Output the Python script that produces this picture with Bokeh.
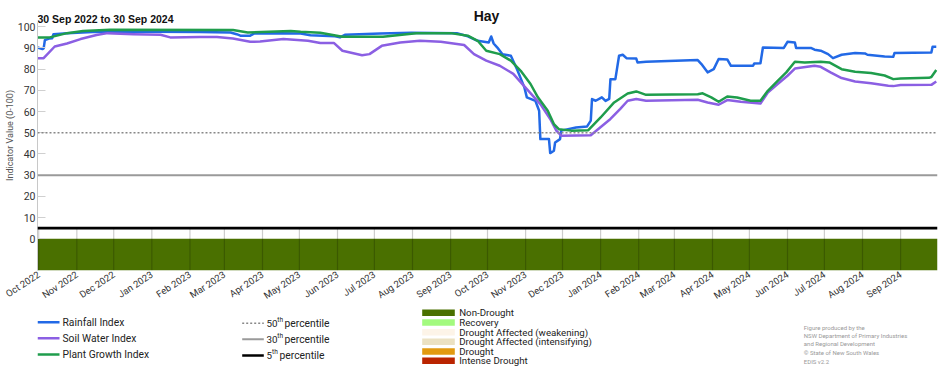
import math
import pandas as pd
from bokeh.plotting import figure
from bokeh.models import Range1d, FixedTicker, DatetimeTickFormatter, Span, Label, Title
from bokeh.layouts import column
from bokeh.embed import file_html
from bokeh.resources import INLINE
from bokeh.core.properties import value

# ---------------- data ----------------
title_text = "Hay"
subtitle_text = "30 Sep 2022 to 30 Sep 2024"
y_label = "Indicator Value (0-100)"

rain_dates = ["2022-09-30", "2022-10-04", "2022-10-05", "2022-10-06", "2022-10-10", "2022-10-12", "2022-10-13",
              "2022-10-24", "2022-11-14", "2022-12-31", "2023-02-09", "2023-03-06", "2023-03-11", "2023-03-14",
              "2023-03-22", "2023-03-25", "2023-04-16", "2023-05-02", "2023-05-10", "2023-05-30", "2023-06-03",
              "2023-06-07", "2023-07-06", "2023-07-31", "2023-09-06", "2023-09-15", "2023-09-23", "2023-10-02",
              "2023-10-04", "2023-10-06", "2023-10-09", "2023-10-13", "2023-10-20", "2023-10-25", "2023-10-31",
              "2023-11-02", "2023-11-09", "2023-11-12", "2023-11-13", "2023-11-20", "2023-11-21", "2023-11-24",
              "2023-11-25", "2023-11-29", "2023-11-30", "2023-12-12", "2023-12-21", "2023-12-24", "2023-12-25",
              "2023-12-28", "2024-01-02", "2024-01-05", "2024-01-08", "2024-01-09", "2024-01-13", "2024-01-16",
              "2024-01-19", "2024-01-22", "2024-01-30", "2024-01-31", "2024-02-07", "2024-03-20", "2024-03-23",
              "2024-03-28", "2024-04-02", "2024-04-06", "2024-04-13", "2024-04-16", "2024-05-04", "2024-05-05",
              "2024-05-10", "2024-05-12", "2024-05-29", "2024-06-01", "2024-06-07", "2024-06-08", "2024-06-20",
              "2024-06-23", "2024-06-28", "2024-07-04", "2024-07-08", "2024-07-15", "2024-07-26", "2024-08-03",
              "2024-08-05", "2024-08-19", "2024-08-26", "2024-08-27", "2024-09-26", "2024-09-27", "2024-09-30"]
rain_vals = [90.2, 89.5, 89.8, 93.7, 94.5, 94.6, 96.5,
             96.9, 97.5, 97.6, 97.5, 97.3, 96.5, 95.8,
             95.8, 96.8, 97.0, 96.8, 96.0, 95.5, 95.0,
             96.2, 96.8, 97.2, 97.0, 95.5, 93.4, 92.6,
             95.4, 92.1, 90.2, 87.1, 86.3, 80.0, 71.4,
             66.7, 65.0, 60.4, 47.0, 47.0, 40.4, 41.5,
             45.4, 47.0, 51.0, 52.5, 53.0, 55.7, 65.9,
             65.1, 66.7, 65.0, 66.0, 75.3, 75.3, 86.3,
             86.8, 85.2, 85.0, 83.2, 83.5, 84.3, 82.4,
             78.5, 80.0, 84.8, 84.6, 81.6, 81.6, 82.7,
             82.8, 90.2, 90.0, 92.9, 92.6, 90.0, 90.0,
             89.2, 88.7, 87.1, 85.2, 86.8, 87.6, 87.4,
             86.8, 86.0, 85.8, 87.6, 87.9, 90.6, 90.6]

soil_dates = ["2022-09-30", "2022-10-05", "2022-10-14", "2022-10-24", "2022-11-04", "2022-11-17", "2022-11-26",
              "2022-12-17", "2023-01-08", "2023-01-16", "2023-02-09", "2023-02-23", "2023-03-08", "2023-03-22",
              "2023-03-30", "2023-04-18", "2023-05-08", "2023-05-18", "2023-05-29", "2023-06-05", "2023-06-21",
              "2023-06-27", "2023-07-07", "2023-07-22", "2023-08-07", "2023-08-24", "2023-09-12", "2023-09-20",
              "2023-09-30", "2023-10-11", "2023-10-22", "2023-11-02", "2023-11-13", "2023-11-21", "2023-11-26",
              "2023-11-30", "2023-12-24", "2024-01-09", "2024-01-17", "2024-01-23", "2024-01-30", "2024-02-07",
              "2024-03-20", "2024-03-28", "2024-04-06", "2024-04-13", "2024-04-24", "2024-05-10", "2024-05-16",
              "2024-05-24", "2024-06-01", "2024-06-07", "2024-06-17", "2024-06-23", "2024-06-28", "2024-07-06",
              "2024-07-15", "2024-07-26", "2024-08-08", "2024-08-22", "2024-08-26", "2024-09-01", "2024-09-26",
              "2024-09-30"]
soil_vals = [85.2, 85.2, 90.7, 92.1, 94.2, 96.1, 97.0,
             96.5, 96.2, 95.0, 95.2, 95.2, 94.5, 92.9,
             93.0, 94.2, 93.4, 92.3, 92.4, 88.7, 86.6,
             87.1, 91.0, 92.6, 93.4, 92.9, 91.4, 87.1,
             84.0, 81.6, 77.8, 70.6, 63.5, 56.5, 51.0,
             48.6, 48.8, 56.5, 61.3, 65.1, 65.9, 65.1,
             65.6, 64.3, 63.2, 65.4, 64.6, 63.8, 69.0,
             73.0, 76.9, 80.3, 81.1, 81.6, 81.1, 78.5,
             75.8, 74.2, 73.4, 72.2, 72.0, 72.5, 72.6,
             74.2]

plant_dates = ["2022-09-30", "2022-10-10", "2022-10-24", "2022-11-06", "2022-11-28", "2023-03-08", "2023-03-20",
               "2023-04-24", "2023-05-02", "2023-05-18", "2023-06-05", "2023-07-08", "2023-08-04", "2023-09-01",
               "2023-09-15", "2023-09-23", "2023-09-30", "2023-10-11", "2023-10-20", "2023-10-28", "2023-11-05",
               "2023-11-11", "2023-11-19", "2023-11-24", "2023-11-28", "2023-12-08", "2023-12-22", "2024-01-01",
               "2024-01-12", "2024-01-23", "2024-01-30", "2024-02-07", "2024-03-20", "2024-03-24", "2024-03-31",
               "2024-04-06", "2024-04-13", "2024-04-21", "2024-05-02", "2024-05-10", "2024-05-16", "2024-05-24",
               "2024-05-31", "2024-06-07", "2024-06-15", "2024-06-28", "2024-07-05", "2024-07-15", "2024-07-26",
               "2024-08-08", "2024-08-19", "2024-08-26", "2024-09-01", "2024-09-24", "2024-09-26", "2024-09-30"]
plant_vals = [95.0, 95.0, 97.0, 98.0, 98.6, 98.5, 97.3,
              98.0, 97.6, 97.2, 95.3, 95.3, 97.0, 97.0,
              95.8, 93.4, 88.7, 87.1, 84.0, 79.2, 73.0,
              66.7, 60.4, 54.1, 51.7, 51.0, 51.2, 57.2,
              64.3, 68.5, 69.5, 67.9, 68.2, 68.6, 66.7,
              64.6, 67.1, 66.6, 65.1, 65.1, 69.8, 74.5,
              78.5, 83.5, 83.2, 83.5, 83.2, 80.0, 78.8,
              78.2, 77.0, 75.3, 75.6, 75.9, 76.3, 79.6]

percentile_levels = [50, 30, 5]
y_ticks = [0, 10, 20, 30, 40, 50, 60, 70, 80, 90, 100]
month_ticks = ["2022-10-01", "2022-11-01", "2022-12-01", "2023-01-01", "2023-02-01", "2023-03-01",
               "2023-04-01", "2023-05-01", "2023-06-01", "2023-07-01", "2023-08-01", "2023-09-01",
               "2023-10-01", "2023-11-01", "2023-12-01", "2024-01-01", "2024-02-01", "2024-03-01",
               "2024-04-01", "2024-05-01", "2024-06-01", "2024-07-01", "2024-08-01", "2024-09-01"]

drought_period_start = ["2022-09-30"]
drought_period_end = ["2024-10-01"]
drought_period_cat = ["Non-Drought"]

drought_categories = ["Non-Drought", "Recovery", "Drought Affected (weakening)",
                      "Drought Affected (intensifying)", "Drought", "Intense Drought"]
drought_colors = ["#4a7000", "#a3fa7e", "#fdf4e8", "#ebe1c2", "#e29a10", "#ba2400"]

series_names = ["Rainfall Index", "Soil Water Index", "Plant Growth Index"]
series_colors = ["#2269e6", "#8b5fe3", "#1f9d4c"]

credits = ["Figure produced by the", "NSW Department of Primary Industries",
           "and Regional Development", "\u00a9 State of New South Wales", "EDIS v2.2"]


def ms(s):
    return pd.Timestamp(s).value / 1e6


FONT = "Roboto"
Y_MIN, Y_MAX_AXIS, Y_TOP = -15, 102, 112.4
LEFT, RIGHT, WIDTH = 37, 15, 952

# ---------------- main chart ----------------
p = figure(width=WIDTH, height=308, x_axis_type="datetime", title=None,
           x_range=Range1d(ms("2022-09-30"), ms("2024-10-01")), y_range=Range1d(Y_MIN, Y_TOP),
           output_backend="svg", toolbar_location=None,
           min_border_left=LEFT, min_border_right=RIGHT, min_border_top=0, min_border_bottom=38)
p.outline_line_color = None
p.xgrid.grid_line_color = None
p.ygrid.grid_line_color = None
p.background_fill_color = "white"
p.border_fill_color = "white"

cat_color = dict(zip(drought_categories, drought_colors))
p.quad(left=[ms(d) for d in drought_period_start], right=[ms(d) for d in drought_period_end],
       bottom=[Y_MIN] * len(drought_period_cat), top=[0] * len(drought_period_cat),
       fill_color=[cat_color[c] for c in drought_period_cat], line_color=None)

tick_ms = [ms(d) for d in month_ticks]
p.segment(x0=tick_ms, y0=[Y_MIN] * len(tick_ms), x1=tick_ms, y1=[5] * len(tick_ms),
          line_color="black", line_alpha=0.2, line_width=1.2)

span_styles = [("#888888", "2 2", 1.6), ("#9a9a9a", "solid", 2.0), ("#000000", "solid", 2.6)]
for lvl, (c, dash, w) in zip(percentile_levels, span_styles):
    p.add_layout(Span(location=lvl, dimension="width", line_color=c, line_dash=dash, line_width=w))

for dates, vals, c in [(rain_dates, rain_vals, series_colors[0]),
                       (soil_dates, soil_vals, series_colors[1]),
                       (plant_dates, plant_vals, series_colors[2])]:
    p.line(x=[ms(d) for d in dates], y=vals, line_color=c, line_width=2.5, line_join="round")

# axes
p.xaxis.ticker = FixedTicker(ticks=tick_ms)
p.xaxis.formatter = DatetimeTickFormatter(days="%b %Y", months="%b %Y", years="%b %Y")
p.xaxis.major_label_orientation = 0.58
p.xaxis.axis_line_color = None
p.xaxis.major_tick_line_color = None
p.xaxis.major_tick_in = 0
p.xaxis.major_tick_out = 0
p.xaxis.minor_tick_line_color = None
p.xaxis.major_label_text_font = FONT
p.xaxis.major_label_text_font_size = "9.5px"
p.xaxis.major_label_text_color = "#333333"
p.xaxis.major_label_standoff = 3

p.yaxis.ticker = FixedTicker(ticks=y_ticks)
p.yaxis.bounds = (Y_MIN, Y_MAX_AXIS)
p.yaxis.major_tick_in = 8
p.yaxis.major_tick_out = 0
p.yaxis.major_tick_line_color = "#d0d0d0"
p.yaxis.minor_tick_line_color = None
p.yaxis.axis_line_color = "#c8c8c8"
p.yaxis.major_label_text_font = FONT
p.yaxis.major_label_text_font_size = "10.5px"
p.yaxis.major_label_text_color = "#333333"
p.yaxis.major_label_standoff = 2

p.add_layout(Title(text=y_label, align="center", text_font=FONT, text_font_size="9px",
                   text_font_style="normal", text_color="#555555", standoff=0, offset=0), "left")

p.add_layout(Label(x=486 - LEFT, y=255, x_units="screen", y_units="screen", text=title_text,
                   text_font="Liberation Sans", text_font_style="bold", text_font_size="14px",
                   text_align="center", text_baseline="middle", text_color="#111111"))
p.add_layout(Label(x=0, y=252, x_units="screen", y_units="screen", text=subtitle_text,
                   text_font="Liberation Sans", text_font_style="bold", text_font_size="10.5px",
                   text_align="left", text_baseline="middle", text_color="#111111"))

# ---------------- legend strip (frame aligned with the main frame; x in page pixels) ----------------
lg = figure(width=WIDTH, height=62, x_range=Range1d(LEFT, WIDTH - RIGHT), y_range=Range1d(62, 0),
            x_axis_location=None, y_axis_location=None, output_backend="svg", toolbar_location=None,
            min_border_left=LEFT, min_border_right=RIGHT, min_border_top=0, min_border_bottom=0, title=None)
lg.outline_line_color = None
lg.xgrid.grid_line_color = None
lg.ygrid.grid_line_color = None

ser_y = [13.7, 29.7, 46]
lg.segment(x0=[37] * 3, y0=ser_y, x1=[59] * 3, y1=ser_y, line_color=series_colors, line_width=2.5)
lg.text(x=[62] * 3, y=ser_y, text=series_names, text_font=value(FONT), text_font_size="10.3px",
        text_baseline="middle", text_color="#222222")

pct_y = [14.7, 30.7, 47]
for yy, (c, dash, w) in zip(pct_y, span_styles):
    lg.segment(x0=[241.7], y0=[yy], x1=[263.3], y1=[yy], line_color=c, line_dash=dash, line_width=w)
pct_num = [str(v) for v in percentile_levels]
pct_th_x = [276.8, 276.8, 271.5]
pct_word_x = [284, 284, 279]
lg.text(x=[266] * 3, y=pct_y, text=pct_num, text_font=value(FONT), text_font_size="9.8px",
        text_baseline="middle", text_color="#222222")
lg.text(x=pct_th_x, y=[v - 3.5 for v in pct_y], text=["th"] * 3, text_font=value(FONT), text_font_size="6.5px",
        text_baseline="middle", text_color="#222222")
lg.text(x=pct_word_x, y=pct_y, text=["percentile"] * 3, text_font=value(FONT), text_font_size="10.3px",
        text_baseline="middle", text_color="#222222")

dr_y = [4.3, 14, 23.7, 33.3, 43, 52.3]
lg.rect(x=[438] * 6, y=dr_y, width=32.6, height=6.4, fill_color=drought_colors, line_color=None)
lg.text(x=[458.7] * 6, y=dr_y, text=drought_categories, text_font=value(FONT), text_font_size="9.7px",
        text_baseline="middle", text_color="#222222")

cr_y = [18.7, 26.7, 34.7, 44, 52.7]
lg.text(x=[803.3] * 5, y=cr_y, text=credits, text_font=value(FONT), text_font_size="6px",
        text_baseline="middle", text_color="#999999")

layout = column(p, lg, spacing=0)
open("out.html", "w").write(file_html(layout, INLINE))
